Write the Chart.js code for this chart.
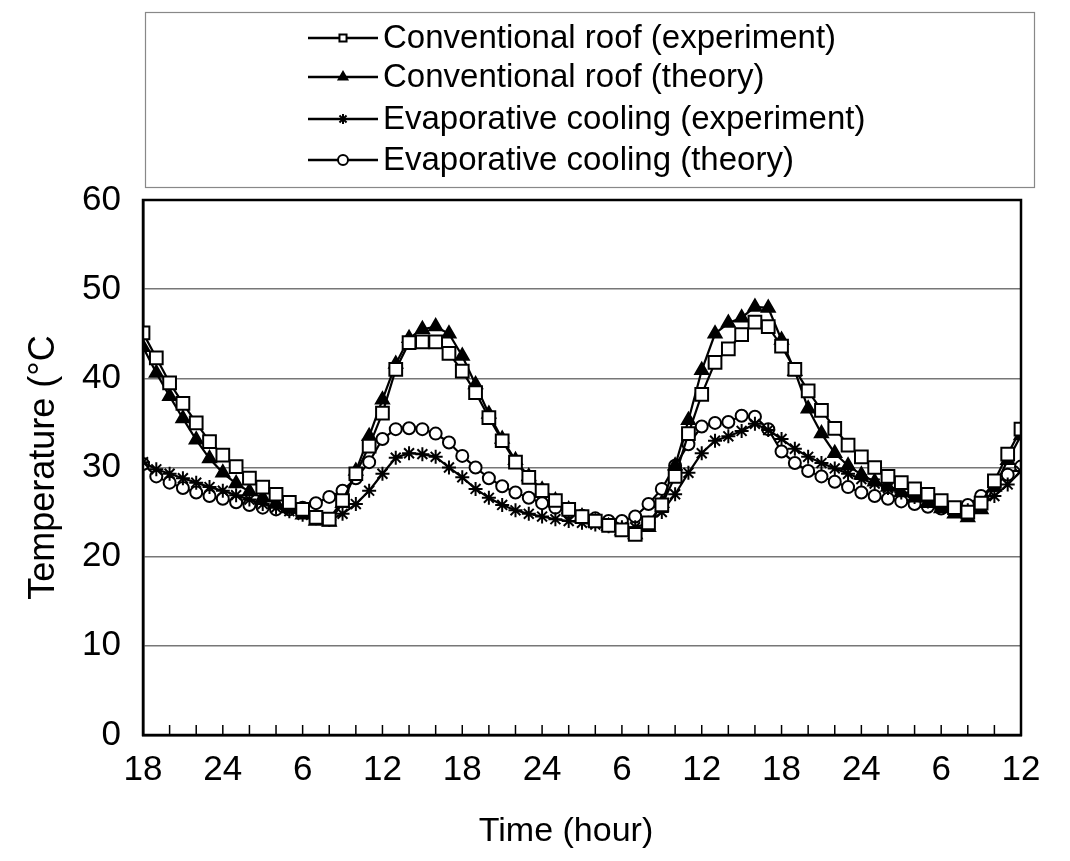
<!DOCTYPE html>
<html><head><meta charset="utf-8">
<script src="https://cdn.jsdelivr.net/npm/chart.js@4/dist/chart.umd.min.js"></script>
<style>html,body{margin:0;padding:0;background:#fff}#wrap{width:1070px;height:861px}</style>
</head><body><div id="wrap"><canvas id="c" width="1070" height="861"></canvas></div>
<script>
// hour index from 18:00 on day 1 (0) to 12:00 on day 4 (66)
const hours = Array.from({length: 67}, (_, i) => i);
const timeTickLabels = ['18','24','6','12','18','24','6','12','18','24','6','12'];
const seriesNames = [
  'Conventional roof (experiment)',
  'Conventional roof (theory)',
  'Evaporative cooling (experiment)',
  'Evaporative cooling (theory)'
];
const xTitle = 'Time (hour)';
const yTitle = 'Temperature (°C';
const convExp = [45.1,42.3,39.5,37.2,35.0,32.9,31.4,30.1,28.8,27.8,27.0,26.1,25.3,24.4,24.2,26.3,29.3,32.4,36.1,41.0,44.0,44.1,44.1,42.8,40.8,38.4,35.6,33.0,30.6,28.9,27.4,26.3,25.3,24.5,24.0,23.5,23.0,22.5,23.8,25.8,29.0,33.8,38.2,41.8,43.3,44.9,46.3,45.8,43.6,41.0,38.6,36.4,34.4,32.5,31.2,30.0,29.0,28.3,27.6,27.0,26.3,25.5,25.0,26.0,28.5,31.5,34.3];
const convTheory = [43.5,40.6,38.0,35.5,33.1,31.0,29.4,28.2,27.3,26.6,26.0,25.4,24.7,24.0,23.9,26.0,29.6,33.5,37.6,41.6,44.5,45.5,45.8,45.0,42.5,39.3,36.0,33.2,30.8,29.0,27.5,26.3,25.3,24.5,23.9,23.4,22.9,22.5,23.3,26.0,30.2,35.3,40.9,45.0,46.2,46.8,48.0,47.9,44.3,40.8,36.6,33.8,31.6,30.2,29.2,28.4,27.8,27.2,26.6,26.0,25.4,24.8,24.4,25.3,27.8,30.8,33.6];
const evapExp = [30.6,29.8,29.3,28.8,28.3,27.8,27.4,26.9,26.4,25.9,25.5,25.1,24.7,24.3,24.1,24.8,25.9,27.4,29.3,31.1,31.6,31.5,31.2,30.0,28.9,27.6,26.6,25.8,25.2,24.8,24.5,24.2,24.0,23.8,23.6,23.4,23.3,23.3,23.8,25.0,27.0,29.4,31.6,33.0,33.5,34.1,34.9,34.2,33.2,32.1,31.2,30.5,29.9,29.3,28.7,28.2,27.7,27.2,26.7,26.2,25.7,25.3,25.2,25.8,26.8,28.1,29.6];
const evapTheory = [30.4,29.0,28.3,27.7,27.2,26.8,26.5,26.1,25.8,25.5,25.3,25.3,25.5,26.0,26.7,27.4,28.8,30.6,33.2,34.3,34.4,34.3,33.8,32.8,31.3,30.0,28.8,27.9,27.2,26.6,26.0,25.5,25.0,24.6,24.3,24.0,24.0,24.5,25.9,27.6,30.2,32.6,34.6,35.0,35.1,35.8,35.7,34.3,31.8,30.5,29.6,29.0,28.4,27.8,27.2,26.8,26.5,26.2,25.9,25.6,25.4,25.4,25.8,26.8,28.0,29.2,30.1];

const FONT = "'Liberation Sans Narrow', 'Liberation Sans', Arial, sans-serif";

function pts(arr) { return arr.map((v, i) => ({x: hours[i], y: v})); }
function ds(label, arr, style, radius, fill) {
  return {
    label, data: pts(arr), borderColor: '#000', borderWidth: 2.2,
    pointStyle: style, pointRadius: radius, pointBorderWidth: 2,
    pointBorderColor: '#000', pointBackgroundColor: fill,
    tension: 0, fill: false
  };
}

const frameAndTicks = {
  id: 'frameAndTicks',
  afterDatasetsDraw(chart) {
    const {ctx, chartArea: a, scales: {x}} = chart;
    ctx.save();
    ctx.strokeStyle = '#000';
    ctx.lineWidth = 1.5;
    for (let h = 0; h <= 66; h += 2) {
      const px = x.getPixelForValue(h);
      ctx.beginPath(); ctx.moveTo(px, a.bottom); ctx.lineTo(px, a.bottom - 10); ctx.stroke();
    }
    ctx.lineWidth = 2.5;
    ctx.strokeRect(a.left, a.top, a.right - a.left, a.bottom - a.top);
    ctx.restore();
  }
};

const boxLegend = {
  id: 'boxLegend',
  afterDraw(chart) {
    const {ctx} = chart;
    ctx.save();
    ctx.strokeStyle = '#888';
    ctx.lineWidth = 1.2;
    ctx.strokeRect(145.5, 12.5, 889, 175);
    const rows = [38, 77, 119, 160];
    chart.data.datasets.forEach((d, i) => {
      const y = rows[i];
      ctx.strokeStyle = '#000'; ctx.lineWidth = 2.5;
      ctx.beginPath(); ctx.moveTo(308, y); ctx.lineTo(378, y); ctx.stroke();
      ctx.fillStyle = d.pointBackgroundColor; ctx.lineWidth = 2;
      Chart.helpers.drawPoint(ctx, {pointStyle: d.pointStyle, radius: 5, borderWidth: 2, rotation: 0}, 343, y);
      ctx.fillStyle = '#000';
      ctx.font = '33px ' + FONT;
      ctx.textBaseline = 'middle';
      ctx.textAlign = 'left';
      ctx.fillText(d.label, 383, y + 1);
    });
    // x-axis title (centred as in the original figure)
    ctx.font = '34px ' + FONT;
    ctx.textAlign = 'center';
    ctx.textBaseline = 'middle';
    ctx.fillText(xTitle, 566, 832);
    ctx.restore();
  }
};

new Chart(document.getElementById('c'), {
  type: 'line',
  data: {
    datasets: [
      ds(seriesNames[0], convExp, 'rect', 9, '#fff'),
      ds(seriesNames[1], convTheory, 'triangle', 7.5, '#000'),
      ds(seriesNames[2], evapExp, 'star', 7, '#000'),
      ds(seriesNames[3], evapTheory, 'circle', 6, '#fff')
    ]
  },
  options: {
    responsive: false,
    animation: false,
    devicePixelRatio: 1,
    layout: {padding: {top: 200, right: 49, left: 0, bottom: 0}},
    plugins: {legend: {display: false}, tooltip: {enabled: false}},
    scales: {
      x: {
        type: 'linear', min: 0, max: 66,
        ticks: {stepSize: 6, autoSkip: false, maxRotation: 0, color: '#000',
          font: {family: FONT, size: 35}, padding: 14,
          callback: v => timeTickLabels[v / 6]},
        grid: {display: false, drawTicks: false},
        border: {display: true, color: '#000', width: 2.5},
        title: {display: false},
        afterFit: s => { s.height = 126; }
      },
      y: {
        min: 0, max: 60,
        ticks: {stepSize: 10, color: '#000', font: {family: FONT, size: 35}, padding: 22},
        grid: {color: '#777', lineWidth: 1.5, drawTicks: false},
        border: {display: true, color: '#000', width: 2.5},
        title: {display: true, text: yTitle, color: '#000',
          font: {family: FONT, size: 36}, padding: {top: 22, bottom: 0}},
        afterFit: s => { s.width = 143; }
      }
    }
  },
  plugins: [frameAndTicks, boxLegend]
});
</script>
</body></html>
